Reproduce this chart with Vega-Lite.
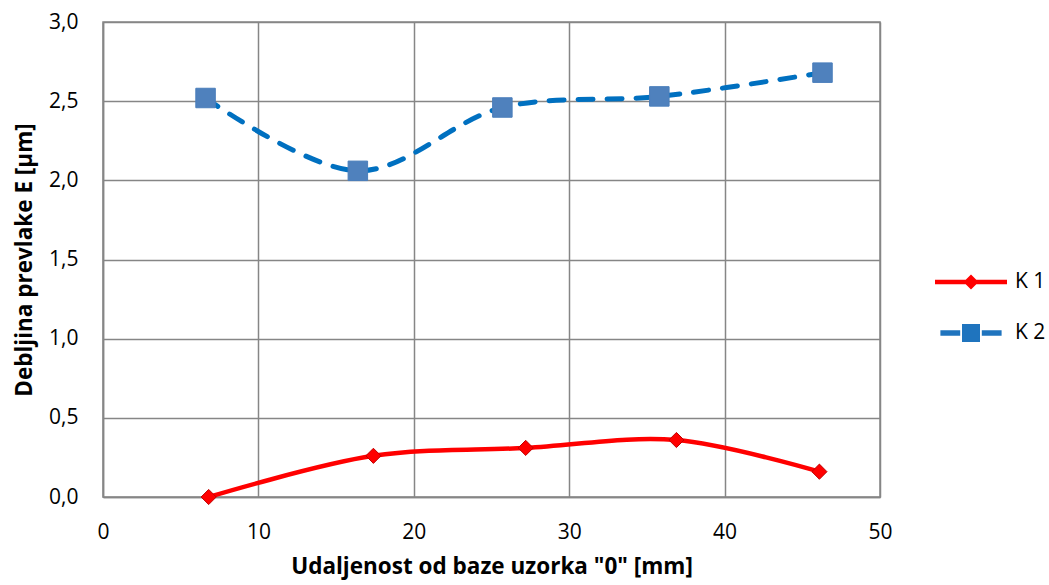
{
  "$schema": "https://vega.github.io/schema/vega-lite/v6.json",
  "autosize": "none",
  "padding": {"left": 103, "top": 22, "right": 169, "bottom": 88},
  "width": 777,
  "height": 475,
  "background": "white",
  "config": {
    "font": "Open Sans",
    "view": {"stroke": "#868686", "strokeWidth": 1.5},
    "axis": {
      "labelFont": "Open Sans", "titleFont": "Open Sans", "labelFontSize": 21, "titleFontSize": 22.5,
      "labelColor": "#000", "titleColor": "#000", "titleFontWeight": "bold", "labelFlush": false,
      "gridColor": "#868686", "gridWidth": 1.5, "gridOpacity": 1,
      "domainColor": "#868686", "domainWidth": 1.5, "tickColor": "#868686", "ticks": false
    },
    "legend": {"labelFont": "Open Sans", "labelFontSize": 21, "labelColor": "#000"}
  },
  "data": {"values": [
    {"series": "K 1", "x": 6.8, "y": 0.0},
    {"series": "K 1", "x": 17.4, "y": 0.26},
    {"series": "K 1", "x": 27.2, "y": 0.31},
    {"series": "K 1", "x": 36.9, "y": 0.36},
    {"series": "K 1", "x": 46.1, "y": 0.16},
    {"series": "K 2", "x": 6.6, "y": 2.52},
    {"series": "K 2", "x": 16.4, "y": 2.06},
    {"series": "K 2", "x": 25.7, "y": 2.46},
    {"series": "K 2", "x": 35.8, "y": 2.53},
    {"series": "K 2", "x": 46.3, "y": 2.68}
  ]},
  "encoding": {
    "x": {"field": "x", "type": "quantitative",
      "scale": {"domain": [0, 50], "nice": false},
      "axis": {"values": [0, 10, 20, 30, 40, 50], "title": "Udaljenost od baze uzorka \"0\" [mm]", "labelPadding": 24, "titlePadding": 13}},
    "y": {"field": "y", "type": "quantitative",
      "scale": {"domain": [0, 3], "nice": false},
      "axis": {"values": [0, 0.5, 1, 1.5, 2, 2.5, 3], "labelExpr": "replace(format(datum.value, '.1f'), '.', ',')", "title": "Debljina prevlake E [µm]", "labelPadding": 25, "titlePadding": 12}}
  },
  "layer": [
    {
      "transform": [{"filter": "datum.series === 'K 1'"}],
      "mark": {"type": "line", "interpolate": "catmull-rom", "color": "#FF0000", "strokeWidth": 4.5, "strokeCap": "round"}
    },
    {
      "transform": [{"filter": "datum.series === 'K 2'"}],
      "mark": {"type": "line", "interpolate": "catmull-rom", "color": "#0070C0", "strokeWidth": 5, "strokeCap": "round", "strokeDash": [15, 14]}
    },
    {
      "transform": [{"filter": "datum.series === 'K 1'"}],
      "mark": {"type": "point", "shape": "diamond", "filled": true, "fill": "#FF0000", "stroke": "#C00000", "strokeWidth": 1, "size": 230, "opacity": 1}
    },
    {
      "transform": [{"filter": "datum.series === 'K 2'"}],
      "mark": {"type": "point", "shape": "square", "filled": true, "fill": "#4F81BD", "stroke": "#4A7EBB", "strokeWidth": 1, "size": 380, "opacity": 1}
    },
    {
      "mark": {"type": "point", "filled": true, "opacity": 1, "size": 0},
      "encoding": {
        "color": {"field": "series", "type": "nominal",
          "scale": {"domain": ["K 1", "K 2"], "range": ["#FF0000", "#1F74BE"]},
          "legend": {"title": null, "orient": "none", "legendX": 832, "legendY": 224, "padding": 0,
            "symbolSize": 5184, "symbolOpacity": 1, "symbolStrokeWidth": 0, "rowPadding": 5, "labelOffset": 8}},
        "shape": {"field": "series", "type": "nominal",
          "scale": {"domain": ["K 1", "K 2"], "range": [
            "M-1,-0.065H1V0.065H-1Z M0,-0.21L0.21,0L0,0.21L-0.21,0Z",
            "M-0.85,-0.075H-0.3V0.075H-0.85Z M-0.25,-0.25H0.25V0.25H-0.25Z M0.3,-0.075H0.85V0.075H0.3Z"
          ]},
          "legend": {"title": null}}
      }
    }
  ]
}
